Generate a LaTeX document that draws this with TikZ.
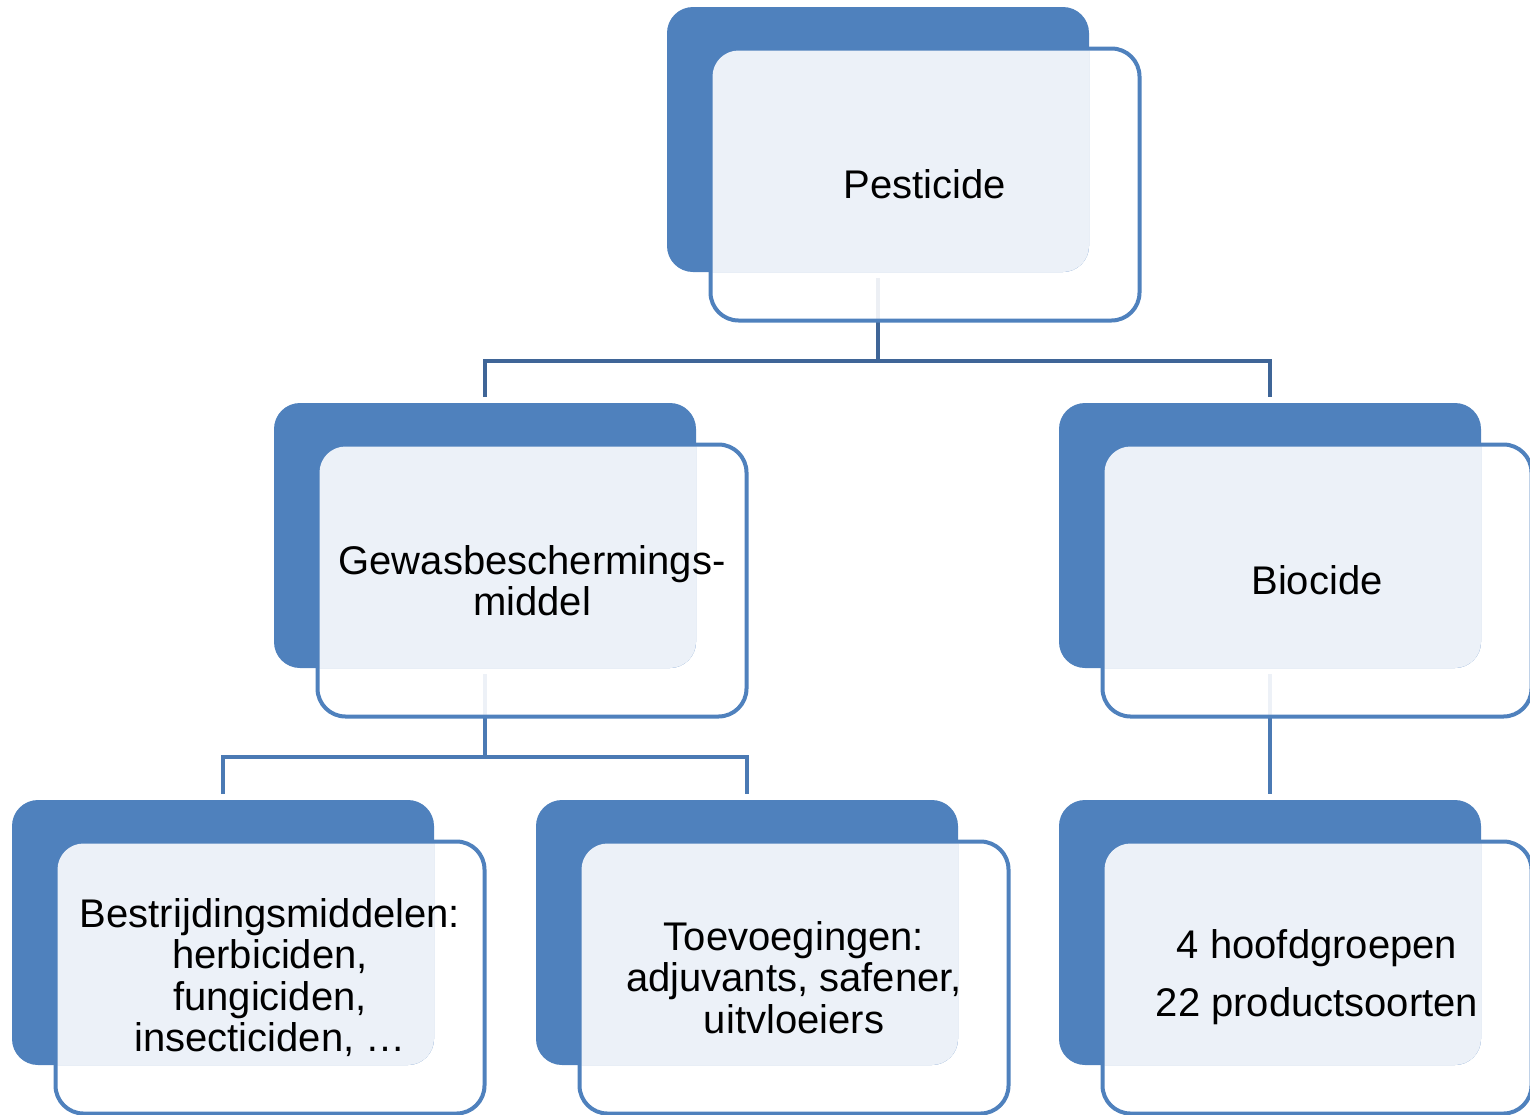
\documentclass[tikz,border=0pt]{standalone}
\usepackage{fontspec}
\setmainfont{Liberation Sans}
\usetikzlibrary{backgrounds,calc}

\definecolor{smartblue}{RGB}{79,129,189}
\definecolor{smartpale}{RGB}{236,241,248}
\definecolor{smartdark}{RGB}{63,101,151}
\definecolor{smartlink}{RGB}{75,122,180}

\begin{document}
\begin{tikzpicture}[x=1pt,y=1pt,
			back node/.style={rectangle,rounded corners=26,fill=smartblue,minimum width=422,minimum height=265,inner sep=0,outer sep=0},
			frame node/.style={rectangle,rounded corners=28,draw=smartblue,line width=4,fill=white,fill opacity=0.9,minimum width=429,minimum height=272,inner sep=0,outer sep=0},
			label node/.style={align=center,font=\fontsize{40}{41.5}\selectfont,inner sep=0},
			link/.style={draw=smartlink,line width=4},
			link top/.style={link,draw=smartdark}
			]
			
			\useasboundingbox (0,0) rectangle (1530,-1114);
			
			\def \dx {47}
			\def \dy {45}
			
			% frame, blue block, pale overlap, then the text
			\foreach \name/\x/\y/\txt in {
				pest/878/-139.5/Pesticide,
				gewas/485/-535.5/{Gewasbeschermings-\\middel},
				bio/1270/-535.5/Biocide,
				bestr/223/-932.5/{Bestrijdingsmiddelen:\\herbiciden,\\fungiciden,\\insecticiden, …},
				toev/747/-932.5/{Toevoegingen:\\adjuvants, safener,\\uitvloeiers},
				prod/1270/-932.5/{4 hoofdgroepen\\[16.5pt]22 productsoorten}} {
				\node[frame node] at (\x+\dx,\y-\dy) (\name-f) {};
				\node[back node] at (\x,\y) (\name) {};
				\begin{scope}
					\clip[rounded corners=26] (\name.south west) rectangle (\name.north east);
					\fill[smartpale,rounded corners=26] ([shift={(2,2)}]\name-f.south west) rectangle ([shift={(-2,-2)}]\name-f.north east);
				\end{scope}
				\node[label node] at (\name-f) (\name-t) {\txt};
			}
			
			\begin{pgfonlayer}{background}
				\coordinate (pest-bar) at ($(pest-f.south -| pest.south)+(0,-40)$);
				\coordinate (gewas-bar) at ($(gewas-f.south -| gewas.south)+(0,-40)$);
				
				\draw[link top] ([yshift=-6]pest.south) -- (pest-bar);
				\draw[link top] ([yshift=6]gewas.north) |- (pest-bar) -| ([yshift=6]bio.north);
				
				\draw[link] ([yshift=-6]gewas.south) -- (gewas-bar);
				\draw[link] ([yshift=6]bestr.north) |- (gewas-bar) -| ([yshift=6]toev.north);
				
				\draw[link] ([yshift=-6]bio.south) -- ([yshift=6]prod.north);
			\end{pgfonlayer}
		\end{tikzpicture}
\end{document}
